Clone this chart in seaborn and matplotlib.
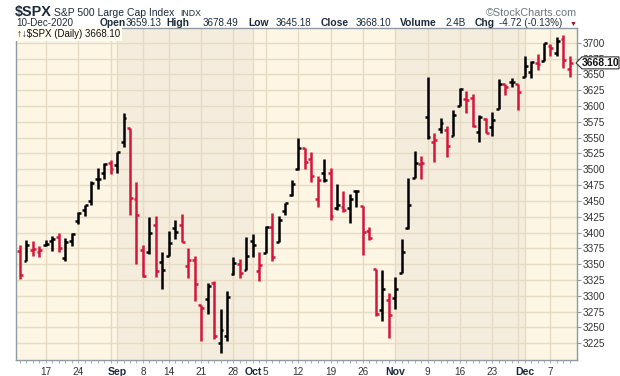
import numpy as np
import pandas as pd
import matplotlib
matplotlib.use('Agg')
import matplotlib.pyplot as plt
from matplotlib.patches import Polygon
import seaborn as sns

# trading days shown on the chart
holidays = ['2020-09-07', '2020-11-26']
dates = pd.bdate_range('2020-08-11', '2020-12-10').drop(pd.to_datetime(holidays))

opens = [3370.34, 3355.46, 3372.95, 3368.66, 3380.86, 3387.04, 3392.51, 3360.48, 3386.01, 3418.09,
         3435.95, 3449.97, 3485.14, 3494.69, 3509.73,
         3507.44, 3543.76, 3564.74, 3453.60, 3371.88, 3369.82, 3412.56, 3352.70, 3363.56, 3407.73,
         3411.23, 3346.86, 3357.38, 3285.57, 3295.75, 3320.11, 3226.14, 3236.66, 3333.90, 3350.92, 3341.21,
         3385.87, 3338.94, 3367.27, 3408.74, 3384.56, 3434.28, 3459.67, 3500.02, 3534.01, 3515.47,
         3453.72, 3493.50, 3493.66, 3439.38, 3439.91, 3438.50, 3464.90, 3441.42, 3403.15, 3342.48,
         3277.17, 3293.59,
         3296.20, 3336.25, 3406.46, 3485.74, 3508.34, 3583.04, 3543.26, 3563.22, 3562.67, 3552.57,
         3600.16, 3610.31, 3612.09, 3559.41, 3579.31, 3566.82, 3594.52, 3635.50, 3638.55, 3634.18,
         3645.87, 3653.78, 3668.28, 3670.94, 3694.73, 3683.05, 3705.98, 3659.13]
highs = [3381.01, 3387.89, 3387.24, 3378.51, 3387.59, 3395.06, 3399.54, 3390.80, 3399.96, 3432.09,
         3444.21, 3481.07, 3501.38, 3509.23, 3514.77,
         3528.03, 3588.11, 3564.85, 3479.15, 3379.97, 3424.77, 3425.55, 3368.95, 3402.93, 3419.48,
         3428.92, 3375.17, 3362.27, 3285.57, 3320.31, 3323.35, 3278.70, 3306.88, 3360.74, 3357.92, 3393.56,
         3397.18, 3369.10, 3409.57, 3431.56, 3426.26, 3447.28, 3482.34, 3549.85, 3534.01, 3527.94,
         3489.08, 3515.76, 3502.42, 3476.93, 3464.86, 3460.53, 3466.46, 3441.42, 3409.51, 3342.48,
         3341.05, 3304.93,
         3330.14, 3389.49, 3486.25, 3529.05, 3521.58, 3645.99, 3557.22, 3581.16, 3569.02, 3593.66,
         3628.51, 3623.11, 3619.09, 3585.22, 3581.23, 3589.81, 3642.31, 3635.50, 3644.31, 3634.18,
         3678.45, 3670.96, 3682.73, 3699.20, 3697.41, 3708.45, 3712.39, 3678.49]
lows = [3326.44, 3355.46, 3363.35, 3361.64, 3379.22, 3370.15, 3369.66, 3354.69, 3379.31, 3413.13,
        3425.84, 3444.15, 3468.35, 3484.32, 3493.25,
        3494.60, 3535.23, 3427.41, 3349.63, 3329.27, 3366.84, 3329.25, 3310.47, 3363.56, 3389.25,
        3384.45, 3328.82, 3292.40, 3229.10, 3270.95, 3232.57, 3209.45, 3228.44, 3332.91, 3327.54, 3340.47,
        3361.39, 3323.69, 3367.27, 3354.54, 3384.56, 3428.15, 3458.07, 3499.61, 3500.86, 3480.55,
        3440.89, 3480.45, 3419.93, 3435.65, 3433.06, 3415.34, 3440.45, 3364.86, 3388.71, 3268.89,
        3259.82, 3233.94,
        3279.74, 3336.25, 3405.17, 3485.74, 3484.34, 3547.48, 3511.91, 3557.00, 3518.58, 3552.57,
        3600.16, 3588.68, 3567.33, 3543.84, 3556.85, 3552.77, 3594.52, 3617.76, 3629.33, 3594.39,
        3645.87, 3644.84, 3657.17, 3670.94, 3678.88, 3678.83, 3660.54, 3645.18]
closes = [3333.69, 3380.35, 3373.43, 3372.85, 3381.99, 3389.78, 3374.85, 3385.51, 3397.16, 3431.28,
          3443.62, 3478.73, 3484.55, 3508.01, 3500.31,
          3526.65, 3580.84, 3455.06, 3426.96, 3331.84, 3398.96, 3339.19, 3340.97, 3383.54, 3401.20,
          3385.49, 3357.01, 3319.47, 3281.06, 3315.57, 3236.92, 3246.59, 3298.46, 3351.60, 3335.47, 3363.00,
          3380.80, 3348.42, 3408.60, 3360.97, 3419.44, 3446.83, 3477.14, 3534.22, 3511.93, 3488.67,
          3483.34, 3483.81, 3426.92, 3443.12, 3435.56, 3453.49, 3465.39, 3400.97, 3390.68, 3271.03,
          3310.11, 3269.96,
          3310.24, 3369.16, 3443.44, 3510.45, 3509.44, 3550.50, 3545.53, 3572.66, 3537.01, 3585.15,
          3626.91, 3609.53, 3567.79, 3581.87, 3557.54, 3577.59, 3635.41, 3629.65, 3638.35, 3621.63,
          3662.45, 3669.01, 3666.72, 3699.12, 3691.96, 3702.25, 3672.82, 3668.10]
prev_close = 3360.47  # close before the first bar, sets its colour

tick_dates = ['2020-08-17', '2020-08-24', '2020-09-01', '2020-09-08', '2020-09-14', '2020-09-21',
              '2020-09-28', '2020-10-01', '2020-10-05', '2020-10-12', '2020-10-19', '2020-10-26',
              '2020-11-02', '2020-11-09', '2020-11-16', '2020-11-23', '2020-12-01', '2020-12-07']
tick_labels = ['17', '24', 'Sep', '8', '14', '21', '28', 'Oct', '5', '12', '19', '26',
               'Nov', '9', '16', '23', 'Dec', '7']
price_ticks = [3225, 3250, 3275, 3300, 3325, 3350, 3375, 3400, 3425, 3450, 3475, 3500,
               3525, 3550, 3575, 3600, 3625, 3650, 3675, 3700]

header_items = [('10-Dec-2020', False), ('Open', True), ('3659.13', False), ('High', True),
                ('3678.49', False), ('Low', True), ('3645.18', False), ('Close', True),
                ('3668.10', False), ('Volume', True), ('2.4B', False), ('Chg', True),
                ('-4.72 (-0.13%)', False)]
header_x = [16, 100, 126, 166, 203, 248, 276, 321, 356, 400, 446, 475, 499]

RED = '#D4163C'
BLACK = '#000000'
LIGHT = '#FDF6E4'
DARK = '#F4ECDC'
GRID = '#E6DAC2'
FRAME = '#8E9BA3'
NAVY = '#1C2B3A'

W, H = 620, 376


def main():
    sns.set_theme(style='white')
    plt.rcParams['font.family'] = ['Liberation Sans', 'DejaVu Sans']

    df = pd.DataFrame({'date': dates, 'open': opens, 'high': highs, 'low': lows, 'close': closes})
    df['i'] = np.arange(len(df))
    df['up'] = df['close'] > df['close'].shift(1, fill_value=prev_close)
    colors = np.where(df['up'], BLACK, RED)

    fig = plt.figure(figsize=(W / 100, H / 100), dpi=100)
    ax = fig.add_axes([16 / W, 1 - 360 / H, (577 - 16) / W, (360 - 28) / H])
    ax.set_facecolor(LIGHT)

    # darker shading for Sep and Nov
    month_start = df.groupby(df['date'].dt.month)['i'].min()
    for m in (9, 11):
        ax.axvspan(month_start[m], month_start[m + 1], color=DARK, lw=0, zorder=0)

    # vertical grid at week and month starts
    week_start = df.groupby(df['date'].dt.isocalendar().week)['i'].min()
    vlines = sorted(set(week_start[week_start > 0]) | set(month_start[month_start > 0]))
    for v in vlines:
        ax.axvline(v, color=GRID, lw=1, zorder=0.5)
    for p in price_ticks:
        ax.axhline(p, color=GRID, lw=1, zorder=0.5)

    # OHLC bars
    tw = 0.45
    kw = dict(colors=colors, lw=1.8, zorder=3)
    ax.vlines(df['i'], df['low'], df['high'], **kw)
    ax.hlines(df['open'], df['i'] - tw, df['i'], **kw)
    ax.hlines(df['close'], df['i'], df['i'] + tw, **kw)

    ax.set_xlim(-0.62, 86.1)
    ax.set_ylim(3198.6, 3723.2)

    # axes and ticks
    for s in ax.spines.values():
        s.set_color(FRAME)
        s.set_linewidth(1)
    ax.yaxis.tick_right()
    ax.set_yticks(price_ticks)
    ax.set_yticklabels([str(p) for p in price_ticks])
    ax.tick_params(axis='y', which='major', direction='out', length=3, width=0.8,
                   color=FRAME, pad=1, labelsize=7.2, labelcolor='#333333', right=True, left=False)

    pos = {d: i for i, d in enumerate(df['date'].dt.strftime('%Y-%m-%d'))}
    ax.set_xticks([pos[d] for d in tick_dates])
    ax.set_xticklabels(tick_labels)
    ax.set_xticks(df['i'], minor=True)
    ax.tick_params(axis='x', which='both', direction='out', length=2, width=0.6,
                   color='#9AA4AA', pad=3, labelsize=7.2, labelcolor='#333333', bottom=True)
    for lbl in ax.get_xticklabels():
        if not lbl.get_text().isdigit():
            lbl.set_fontweight('bold')
            lbl.set_color(NAVY)
            lbl.set_fontsize(7.6)

    # legend tag inside the plot
    ax.text(0.002, 0.997, '\u2191\u2193$SPX (Daily) 3668.10', transform=ax.transAxes,
            ha='left', va='top', fontsize=7, color='#111111', parse_math=False,
            bbox=dict(fc='#FFFCF2', ec='none', pad=1.2), zorder=6)

    # last price tag on the right axis
    last = closes[-1]
    hy = 6 * (3723.2 - 3198.6) / 332
    aw = 561
    tr = ax.get_yaxis_transform()
    tag = Polygon([(1 - 1 / aw, last), (1 + 5 / aw, last + hy), (1 + 42 / aw, last + hy),
                   (1 + 42 / aw, last - hy), (1 + 5 / aw, last - hy)], closed=True,
                  transform=tr, clip_on=False, fc='white', ec='#333333', lw=0.8, zorder=10)
    ax.add_patch(tag)
    ax.text(1 + 24 / aw, last, f'{last:.2f}', transform=tr, ha='center', va='center',
            fontsize=7.5, fontweight='bold', color='#111111', clip_on=False, zorder=11)

    # header
    fig.text(15 / W, 1 - 16 / H, '$SPX', fontsize=10.4, fontweight='bold', color=NAVY,
             ha='left', va='baseline', parse_math=False)
    fig.text(54 / W, 1 - 16 / H, 'S&P 500 Large Cap Index', fontsize=7.5, color=NAVY,
             ha='left', va='baseline')
    fig.text(180 / W, 1 - 16 / H, 'INDX', fontsize=6.3, color=NAVY, ha='left', va='baseline')
    fig.text(577 / W, 1 - 15.5 / H, '\u00a9StockCharts.com', fontsize=7.8, color='#6B7780',
             ha='right', va='baseline')
    for (txt, bold), x in zip(header_items, header_x):
        fig.text(x / W, 1 - 26.5 / H, txt, fontsize=7.4 if bold else 7.1, color=NAVY,
                 fontweight='bold' if bold else 'normal', ha='left', va='baseline')
    fig.text(573 / W, 1 - 24 / H, '\u25bc', fontsize=5, color='#A0102E', ha='center', va='center')

    fig.savefig('out.png', dpi=100, facecolor='white')


if __name__ == '__main__':
    main()
